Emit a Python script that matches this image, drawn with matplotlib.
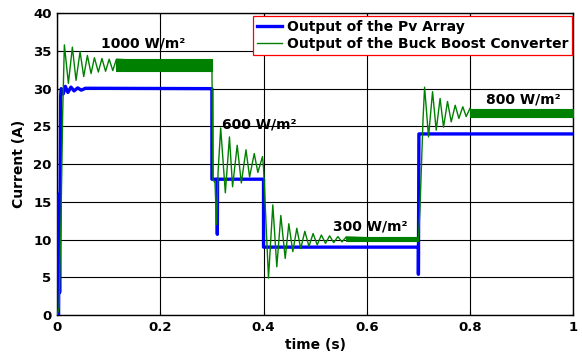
# PV array vs buck-boost converter output current under irradiance steps
import matplotlib
matplotlib.use('Agg')
import matplotlib.pyplot as plt
from matplotlib import rcParams

config = {
    "font.family": 'DejaVu Sans',
    "font.weight": 'bold',
    "font.size": 9.5,
}
rcParams.update(config)

# PV array current
t_pv = [0.0, 0.003, 0.004, 0.005, 0.007, 0.008, 0.012, 0.016, 0.021, 0.027, 0.033,
        0.040, 0.047, 0.055, 0.300, 0.300, 0.310, 0.3105, 0.311, 0.400, 0.400,
        0.700, 0.700, 0.701, 1.000]
i_pv = [0.0, 0.0, 16.0, 3.0, 29.0, 30.0, 29.3, 30.3, 29.5, 30.2, 29.7,
        30.1, 29.8, 30.05, 30.0, 18.0, 18.0, 10.7, 18.0, 18.0, 9.0,
        9.0, 5.4, 24.0, 24.0]

# converter current, peaks and troughs of the ringing
t_conv = [0.0, 0.004, 0.008, 0.011, 0.0142, 0.022, 0.0297, 0.0368, 0.0446, 0.0517,
          0.0588, 0.0659, 0.0724, 0.080, 0.087, 0.094, 0.101, 0.108, 0.115,
          0.300, 0.302, 0.306, 0.309, 0.312, 0.317, 0.326, 0.334, 0.340, 0.349,
          0.357, 0.366, 0.373, 0.382, 0.389, 0.398, 0.400,
          0.4096, 0.418, 0.4257, 0.4335, 0.442, 0.449, 0.4567, 0.4645, 0.472,
          0.480, 0.488, 0.496, 0.504, 0.512, 0.520, 0.528, 0.536, 0.544, 0.552,
          0.560, 0.700, 0.703, 0.706, 0.709, 0.712, 0.7196, 0.7274, 0.7345,
          0.742, 0.7487, 0.7564, 0.7636, 0.7713, 0.7784, 0.786, 0.7926, 0.800]
i_conv = [0.0, 1.0, 14.0, 27.0, 35.8, 30.7, 35.5, 31.1, 34.9, 31.6,
          34.4, 32.0, 34.1, 32.2, 34.0, 32.3, 33.9, 32.4, 33.9,
          33.2, 18.0, 17.5, 12.0, 19.0, 24.8, 16.2, 23.6, 17.0, 22.5,
          17.5, 21.9, 18.3, 21.4, 18.9, 21.0, 19.5,
          4.9, 14.6, 6.4, 13.2, 7.5, 12.1, 8.4, 11.5, 8.8,
          11.1, 9.1, 10.8, 9.3, 10.6, 9.5, 10.5, 9.6, 10.4, 9.7,
          10.35, 10.0, 14.0, 20.0, 26.0, 30.2, 23.6, 29.6, 24.5,
          28.7, 24.9, 28.3, 25.6, 27.8, 26.05, 27.6, 26.3, 27.4]

# high-frequency ripple band in steady state: start, end, low, high
band_start = [0.115, 0.560, 0.800]
band_end = [0.300, 0.700, 1.000]
band_low = [32.4, 9.75, 26.3]
band_high = [33.9, 10.3, 27.3]

# irradiance labels
irr_labels = ['1000 W/m²', '600 W/m²', '300 W/m²', '800 W/m²']
irr_x = [0.166, 0.392, 0.607, 0.904]
irr_y = [36.0, 25.3, 11.7, 28.5]

fig = plt.figure(figsize=(5.82, 3.56), dpi=100)
ax = fig.add_axes([0.098, 0.115, 0.887, 0.848])

green = '#008000'
ax.plot(t_pv, i_pv, color='#0000ff', linewidth=2.4, label='Output of the Pv Array', zorder=3)
ax.plot(t_conv, i_conv, color=green, linewidth=1.0,
        label='Output of the Buck Boost Converter', zorder=4)
for s, e, lo, hi in zip(band_start, band_end, band_low, band_high):
    ax.fill_between([s, e], [lo, lo], [hi, hi], color=green, linewidth=0.8, zorder=4)

for lab, x, y in zip(irr_labels, irr_x, irr_y):
    ax.text(x, y, lab, ha='center', va='center', fontsize=10, fontweight='bold', zorder=5)

ax.set_xlim(0, 1)
ax.set_ylim(0, 40)
ax.set_xticks([0, 0.2, 0.4, 0.6, 0.8, 1])
ax.set_xticklabels(['0', '0.2', '0.4', '0.6', '0.8', '1'])
ax.set_yticks(range(0, 45, 5))
ax.grid(True, color='black', linewidth=0.8)
ax.tick_params(direction='in', top=True, right=True, length=3, width=0.8, pad=4)
for sp in ax.spines.values():
    sp.set_linewidth(1.0)
    sp.set_color('black')

ax.set_xlabel('time (s)', fontsize=10, fontweight='bold')
ax.set_ylabel('Current (A)', fontsize=10, fontweight='bold')
ax.xaxis.set_label_coords(0.5, -0.075)
ax.yaxis.set_label_coords(-0.06, 0.5)

leg = ax.legend(loc='upper right', bbox_to_anchor=(0.998, 0.99), borderaxespad=0,
                fancybox=False, framealpha=1, edgecolor='red', fontsize=10,
                handlelength=1.8, handletextpad=0.3, labelspacing=0.2, borderpad=0.3)
leg.get_frame().set_linewidth(0.9)
leg.set_zorder(10)
for t in leg.get_texts():
    t.set_fontweight('bold')

plt.savefig('out.png', dpi=100)
